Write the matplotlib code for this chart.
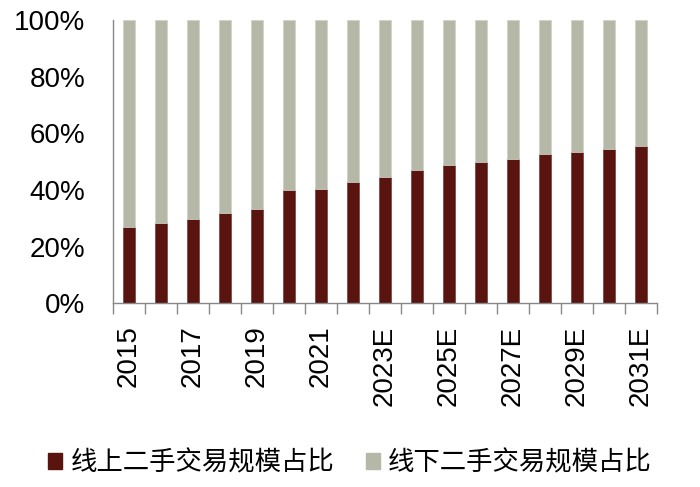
import matplotlib
matplotlib.use('Agg')
import numpy as np
import matplotlib.pyplot as plt
from matplotlib.patches import Patch

plt.rcParams['font.family'] = ['Liberation Sans', 'Noto Sans CJK SC', 'DejaVu Sans']

years = ['2015', '2016', '2017', '2018', '2019', '2020', '2021', '2022',
         '2023E', '2024E', '2025E', '2026E', '2027E', '2028E', '2029E', '2030E', '2031E']
online = [27.0, 28.5, 29.9, 31.8, 33.4, 40.0, 40.5, 42.8,
          44.7, 46.9, 48.8, 50.0, 50.9, 52.6, 53.5, 54.6, 55.5]
offline = [100 - v for v in online]
series_names = ['线上二手交易规模占比', '线下二手交易规模占比']
colors = ['#5A1410', '#B6B8A7']

fig = plt.figure(figsize=(7, 4.87), dpi=100)
ax = fig.add_axes([0.1614, 0.3772, 0.7772, 0.5817])

x = np.arange(len(years))
ax.bar(x, online, width=0.4, color=colors[0], edgecolor='#7a3a35', linewidth=0.5)
ax.bar(x, offline, width=0.4, bottom=online, color=colors[1], edgecolor='#d0d1c4', linewidth=0.5)

ax.set_xlim(-0.5, len(years) - 0.5)
ax.set_ylim(0, 100)
ax.set_yticks(range(0, 101, 20))
ax.set_yticklabels([f'{v}%' for v in range(0, 101, 20)], fontsize=20)
ax.tick_params(axis='y', length=0, pad=20)

ax.set_xticks(x[::2])
ax.set_xticklabels(years[::2], rotation=90, fontsize=20, va='top')
ax.set_xticks(np.arange(-0.5, len(years), 1), minor=True)
ax.tick_params(axis='x', which='major', length=0, pad=16)
ax.tick_params(axis='x', which='minor', length=8, color='#888888', width=1)

for s in ['top', 'right']:
    ax.spines[s].set_visible(False)
for s in ['left', 'bottom']:
    ax.spines[s].set_color('#888888')
    ax.spines[s].set_linewidth(1)

handles = [Patch(facecolor=c, edgecolor=c) for c in colors]
fig.legend(handles, series_names, loc='center', bbox_to_anchor=(0.5, 0.049), ncol=2,
           frameon=False, prop={'family': ['Noto Sans CJK SC', 'DejaVu Sans'], 'size': 19},
           handlelength=0.55, handleheight=0.55, handletextpad=0.3, columnspacing=1.2)

fig.savefig('out.png', dpi=100)
